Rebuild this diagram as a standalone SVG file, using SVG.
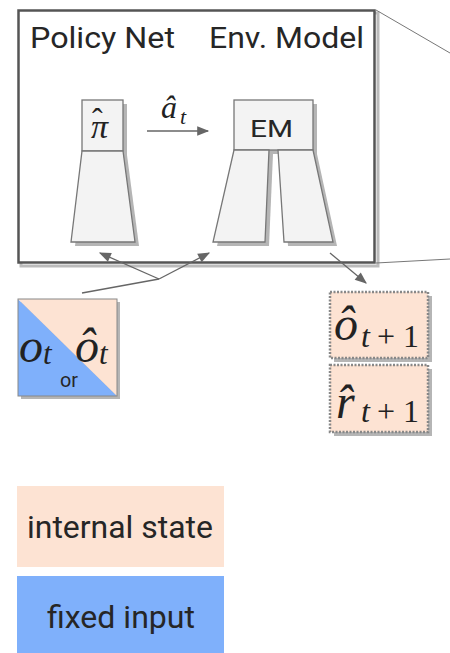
<svg xmlns="http://www.w3.org/2000/svg" width="450" height="653" viewBox="0 0 450 653">
<style>
.lbl{font-family:Roboto,"Liberation Sans",sans-serif;fill:#262626}
.m{font-family:"Liberation Serif","DejaVu Serif",serif;font-style:italic;fill:#222}
.mr{font-family:"Liberation Serif","DejaVu Serif",serif;fill:#222}
.net{fill:#f3f3f3;stroke:#777;stroke-width:1.3}
.sh{fill:#b5b5b5}
.con{stroke:#666;stroke-width:1.3;fill:none}
.dot{fill:#fde3d3;stroke:#888;stroke-width:2.5;stroke-dasharray:2 1.5}
</style>
<defs>
<marker id="ah2" viewBox="0 0 10 10" refX="9" refY="5" markerWidth="14" markerHeight="12" orient="auto" markerUnits="userSpaceOnUse">
<path d="M0,1 L10,5 L0,9 Z" fill="#666"/>
</marker>
</defs>
<rect width="450" height="653" fill="#fff"/>

<g id="frame">
<rect x="21" y="13" width="357" height="253" fill="none" stroke="#bbb" stroke-width="3"/>
<rect x="18.5" y="10.5" width="356" height="252" fill="#fff" stroke="#555" stroke-width="2.5"/>
<text class="lbl" x="30" y="48" font-size="29" textLength="145" lengthAdjust="spacingAndGlyphs">Policy Net</text>
<text class="lbl" x="209" y="48" font-size="29" textLength="155" lengthAdjust="spacingAndGlyphs">Env. Model</text>
</g>

<g id="policy-net">
<path class="sh" d="M86,155 L127,155 L139,246 L75,246 Z"/>
<rect class="sh" x="86" y="104" width="41" height="51"/>
<rect class="net" x="82" y="100" width="41" height="51"/>
<path class="net" d="M82,151 L123,151 L135,242 L71,242 Z"/>
<text class="m" x="91" y="138" font-size="34">π<tspan x="92" y="130" font-size="32" font-style="normal">ˆ</tspan></text>
</g>

<g id="env-model">
<rect class="sh" x="238" y="104" width="79" height="50"/>
<path class="sh" d="M238,154 L273,154 L269,246 L217,246 Z"/>
<path class="sh" d="M282,154 L317,154 L337,246 L288,246 Z"/>
<rect class="net" x="234" y="100" width="79" height="50"/>
<path class="net" d="M234,150 L269,150 L265,242 L213,242 Z"/>
<path class="net" d="M278,150 L313,150 L333,242 L284,242 Z"/>
<text class="lbl" x="250" y="137" font-size="24" textLength="43" lengthAdjust="spacingAndGlyphs">EM</text>
</g>

<g id="obs-input">
<rect class="sh" x="21" y="302" width="99" height="97"/>
<path d="M18,299 L117,396 L18,396 Z" fill="#7fb0fb"/>
<path d="M18,299 L117,299 L117,396 Z" fill="#fde3d3"/>
<rect x="18" y="299" width="99" height="97" fill="none" stroke="#888" stroke-width="1"/>
<text class="m" x="19" y="362" font-size="48">o</text>
<text class="m" x="43" y="364" font-size="31">t</text>
<text class="m" x="75" y="362" font-size="48">ô</text>
<text class="m" x="99" y="364" font-size="31">t</text>
<text class="lbl" x="60" y="387" font-size="20" textLength="18" lengthAdjust="spacingAndGlyphs">or</text>
</g>

<g id="next-obs">
<rect class="sh" x="334" y="296" width="98" height="66"/>
<rect class="dot" x="330" y="292" width="98" height="66"/>
<text class="m" x="334" y="340" font-size="48">ô</text>
<text class="m" x="361" y="347" font-size="32">t</text>
<text class="mr" x="377" y="347" font-size="32">+</text>
<text class="mr" x="403" y="347" font-size="32">1</text>
</g>

<g id="next-reward">
<rect class="sh" x="334" y="369" width="98" height="67"/>
<rect class="dot" x="330" y="365" width="98" height="67"/>
<text class="m" x="336" y="418" font-size="48">r̂</text>
<text class="m" x="361" y="422" font-size="32">t</text>
<text class="mr" x="377" y="422" font-size="32">+</text>
<text class="mr" x="403" y="422" font-size="32">1</text>
</g>

<g id="legend-internal">
<rect x="17" y="486" width="207" height="81" fill="#fde3d3"/>
<text class="lbl" x="27" y="538" font-size="32" textLength="186" lengthAdjust="spacingAndGlyphs">internal state</text>
</g>
<g id="legend-fixed">
<rect x="17" y="576" width="207" height="77" fill="#7fb0fb"/>
<text class="lbl" x="47" y="628" font-size="32" textLength="148" lengthAdjust="spacingAndGlyphs">fixed input</text>
</g>

<g id="connectors">
<line class="con" x1="147" y1="131" x2="208" y2="131" marker-end="url(#ah2)"/>
<text class="m" x="161" y="118" font-size="32">â</text>
<text class="m" x="180" y="124" font-size="22">t</text>
<polyline class="con" points="82,293 159,279"/>
<line class="con" x1="159" y1="279" x2="100" y2="253" marker-end="url(#ah2)"/>
<line class="con" x1="159" y1="279" x2="209" y2="253" marker-end="url(#ah2)"/>
<line class="con" x1="330" y1="253" x2="366" y2="283" marker-end="url(#ah2)"/>
<line stroke="#777" stroke-width="1" x1="376" y1="10" x2="450" y2="53"/>
<line stroke="#777" stroke-width="1" x1="376" y1="263" x2="450" y2="259"/>
</g>
</svg>
